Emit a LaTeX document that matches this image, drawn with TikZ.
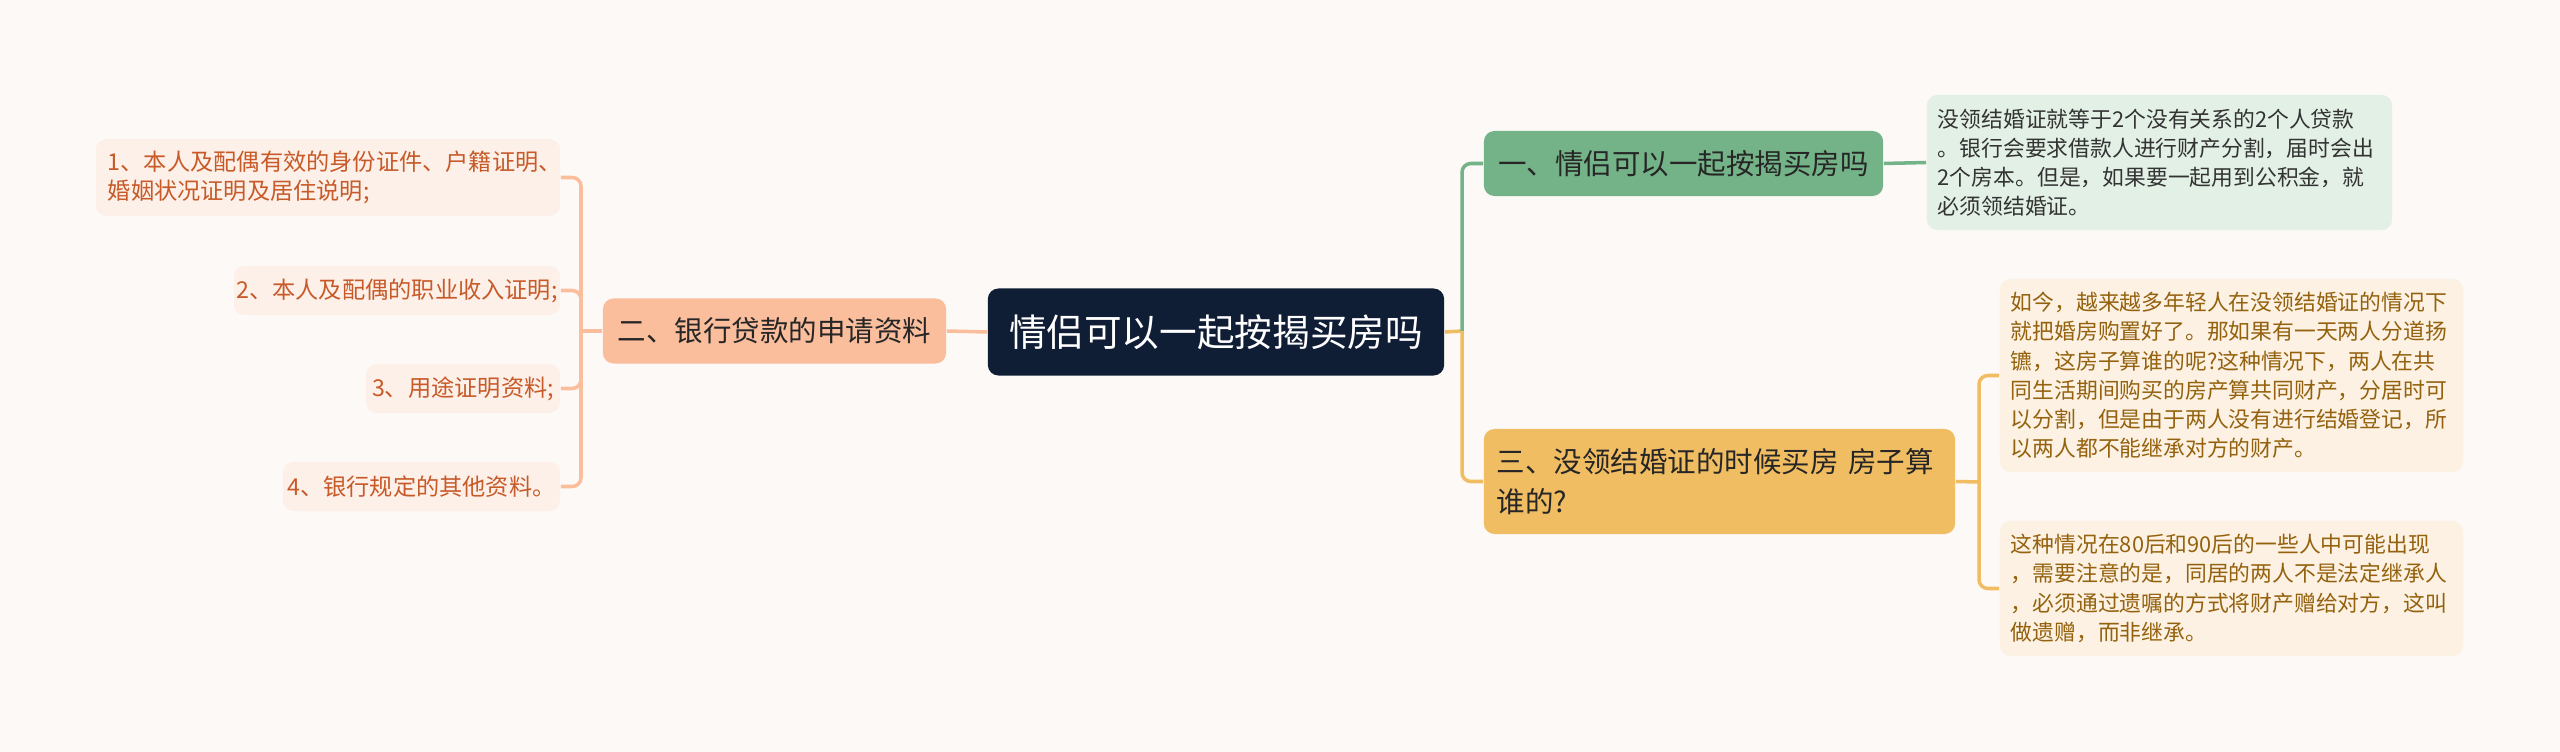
\documentclass[tikz,border=0pt]{standalone}
\usepackage{fontspec}
\setmainfont{Noto Sans CJK SC}
\definecolor{bg}{HTML}{FDF9F7}
\definecolor{rootc}{HTML}{0F1D35}
\definecolor{salmon}{HTML}{FBBE9D}
\definecolor{salmonl}{HTML}{FDF0E8}
\definecolor{salmont}{HTML}{C75A28}
\definecolor{greenc}{HTML}{74B287}
\definecolor{greenl}{HTML}{E3F0E6}
\definecolor{orangec}{HTML}{F1BD63}
\definecolor{orangel}{HTML}{FCF1E2}
\definecolor{brownt}{HTML}{94620E}
\tikzset{
 box/.style={rounded corners=3pt, inner sep=0pt, align=left},
 rootbox/.style={box, fill=rootc, text=white, font=\fontsize{10.7}{13}\selectfont},
 mainbox/.style={box, font=\fontsize{8.1}{11.5}\selectfont, text=black!85},
 lleaf/.style={box, fill=salmonl, text=salmont, font=\fontsize{6.6}{8.1}\selectfont},
 rleaf/.style={box, fill=orangel, text=brownt, font=\fontsize{6.2}{8.3}\selectfont},
 gleaf/.style={box, fill=greenl, text=black!80, font=\fontsize{6.2}{8.3}\selectfont},
 link/.style={line width=1pt, rounded corners=2.5pt},
}
\begin{document}
\begin{tikzpicture}[x=0.01cm,y=-0.01cm]
\useasboundingbox (0,0) rectangle (2560,752);
\fill[bg] (0,0) rectangle (2560,752);
% root
\node[rootbox, minimum width=4.56cm, minimum height=0.87cm, align=center] (root) at (1216,332) {情侣可以一起按揭买房吗};
% left branch
\node[mainbox, fill=salmon, minimum width=3.43cm, minimum height=0.65cm, align=center] (b2) at (774.5,331) {二、银行贷款的申请资料};
\node[lleaf, minimum width=4.64cm, minimum height=0.77cm, text width=4.4cm] (l1) at (328,177.5) {1、本人及配偶有效的身份证件、户籍证明、\\婚姻状况证明及居住说明;};
\node[lleaf, minimum width=3.26cm, minimum height=0.49cm, align=right] (l2) at (397,290.5) {2、本人及配偶的职业收入证明;};
\node[lleaf, minimum width=1.94cm, minimum height=0.49cm, align=right] (l3) at (463,388.5) {3、用途证明资料;};
\node[lleaf, minimum width=2.77cm, minimum height=0.49cm, align=right] (l4) at (421.5,486.5) {4、银行规定的其他资料。};
\coordinate (lj) at (581,331);
\draw[link, salmon] (root.west) -- (b2.east);
\draw[link, salmon] (b2.west) -- (lj);
\foreach \n in {l1,l2,l3,l4} \draw[link, salmon] (lj) |- (\n.east);
% right branch
\node[mainbox, fill=greenc, minimum width=3.99cm, minimum height=0.65cm, align=center] (b1) at (1683.5,163.5) {一、情侣可以一起按揭买房吗};
\node[mainbox, fill=orangec, minimum width=4.71cm, minimum height=1.05cm, text width=4.45cm] (b3) at (1719.5,481.5) {三、没领结婚证的时候买房 房子算\\谁的?};
\node[gleaf, minimum width=4.65cm, minimum height=1.35cm, text width=4.43cm] (g1) at (2159.5,162.5) {没领结婚证就等于2个没有关系的2个人贷款\\。银行会要求借款人进行财产分割，届时会出\\2个房本。但是，如果要一起用到公积金，就\\必须领结婚证。};
\node[rleaf, minimum width=4.63cm, minimum height=1.93cm, text width=4.41cm] (ra) at (2231.5,375.5) {如今，越来越多年轻人在没领结婚证的情况下\\就把婚房购置好了。那如果有一天两人分道扬\\镳，这房子算谁的呢?这种情况下，两人在共\\同生活期间购买的房产算共同财产，分居时可\\以分割，但是由于两人没有进行结婚登记，所\\以两人都不能继承对方的财产。};
\node[rleaf, minimum width=4.63cm, minimum height=1.35cm, text width=4.41cm] (rb) at (2231.5,588.5) {这种情况在80后和90后的一些人中可能出现\\，需要注意的是，同居的两人不是法定继承人\\，必须通过遗嘱的方式将财产赠给对方，这叫\\做遗赠，而非继承。};
\coordinate (rj) at (1462,331);
\coordinate (rj3) at (1979,482);
\draw[link, orangec] (root.east) -- (rj);
\draw[link, greenc] (rj) |- (b1.west);
\draw[link, orangec] (rj) |- (b3.west);
\draw[link, greenc] (b1.east) -- (g1.west);
\draw[link, orangec] (b3.east) -- (rj3);
\draw[link, orangec] (rj3) |- (ra.west);
\draw[link, orangec] (rj3) |- (rb.west);
\end{tikzpicture}
\end{document}
